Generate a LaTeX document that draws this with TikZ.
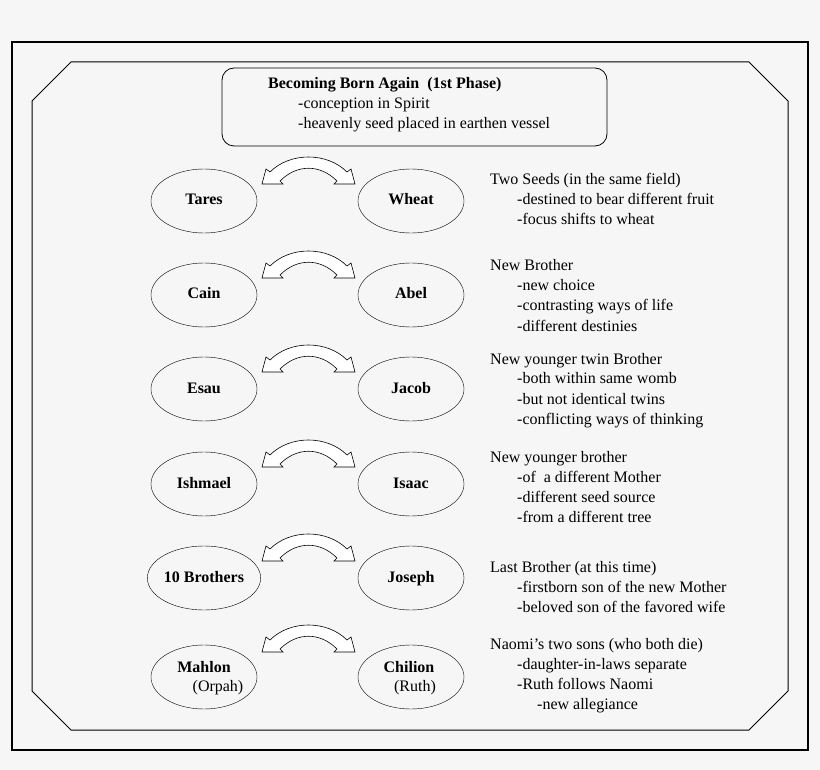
\documentclass[tikz,border=0pt]{standalone}
\usepackage{fontspec}
\setmainfont{Liberation Serif}
\usetikzlibrary{shapes.geometric}
\begin{document}
\begin{tikzpicture}[x=1pt,y=-1pt,
  oval/.style={draw,ellipse,minimum width=106pt,minimum height=64pt,font=\fontsize{16}{18}\selectfont\bfseries,align=center,inner sep=0pt,text height=11pt,text depth=3pt},
  txt/.style={anchor=west,font=\fontsize{16}{18}\selectfont,inner sep=0pt,text height=11pt,text depth=3pt},
  dbl/.style={draw,fill=white,line width=0.6pt}]
\fill[fill={rgb,255:red,246;green,246;blue,246}] (0,0) rectangle (820,770);
\useasboundingbox (0,0) rectangle (820,770);
\draw[line width=1.6pt] (12,42) rectangle (808,750);
\draw[line width=1pt] (71,62) -- (749,62) -- (788,101) -- (788,691) -- (749,730) -- (71,730) -- (32,691) -- (32,101) -- cycle;
\draw[rounded corners=12pt,line width=0.8pt] (222,68) rectangle (607,146);
\node[txt,font=\fontsize{16}{18}\selectfont\bfseries] (title) at (268,85) {Becoming Born Again\ \ (1st Phase)};
\node[txt] (t1) at (298,105) {-conception in Spirit};
\node[txt] (t2) at (298,125) {-heavenly seed placed in earthen vessel};
\def\dbarrow#1{\draw[dbl] (262,#1+184) -- (266,#1+169) -- (270,#1+172) .. controls (290,#1+152) and (327,#1+152) .. (347,#1+172) -- (351,#1+169) -- (355,#1+184) -- (334,#1+184) -- (337,#1+181) .. controls (320,#1+164) and (297,#1+164) .. (280,#1+181) -- (283,#1+184) -- cycle;}
\node[oval] (l1) at (204,201) {Tares};
\node[oval] (r1) at (411,201) {Wheat};
\dbarrow{0}
\node[oval] (l2) at (204,295) {Cain};
\node[oval] (r2) at (411,295) {Abel};
\dbarrow{94}
\node[oval] (l3) at (204,389) {Esau};
\node[oval] (r3) at (411,389) {Jacob};
\dbarrow{188}
\node[oval] (l4) at (204,484) {Ishmael};
\node[oval] (r4) at (411,484) {Isaac};
\dbarrow{283}
\node[oval] (l5) at (204,578) {10 Brothers};
\node[oval] (r5) at (411,578) {Joseph};
\dbarrow{377}
\node[oval] (l6) at (204,677) {};
\node[oval] (r6) at (411,677) {};
\node[font=\fontsize{16}{18}\selectfont\bfseries,text height=11pt,text depth=3pt] (l6a) at (204,668) {Mahlon};
\node[font=\fontsize{16}{18}\selectfont,text height=11pt,text depth=3pt] (l6b) at (218,687) {(Orpah)};
\node[font=\fontsize{16}{18}\selectfont\bfseries,text height=11pt,text depth=3pt] (r6a) at (409,668) {Chilion};
\node[font=\fontsize{16}{18}\selectfont,text height=11pt,text depth=3pt] (r6b) at (415,687) {(Ruth)};
\dbarrow{468}
\node[txt] (a1) at (490,181) {Two Seeds (in the same field)};
\node[txt] (a2) at (517,201) {-destined to bear different fruit};
\node[txt] (a3) at (517,221) {-focus shifts to wheat};
\node[txt] (b1) at (490,267) {New Brother};
\node[txt] (b2) at (517,287) {-new choice};
\node[txt] (b3) at (517,307) {-contrasting ways of life};
\node[txt] (b4) at (517,327) {-different destinies};
\node[txt] (c1) at (490,360) {New younger twin Brother};
\node[txt] (c2) at (517,380) {-both within same womb};
\node[txt] (c3) at (517,400) {-but not identical twins};
\node[txt] (c4) at (517,420) {-conflicting ways of thinking};
\node[txt] (d1) at (490,458) {New younger brother};
\node[txt] (d2) at (517,478) {-of\ \ a different Mother};
\node[txt] (d3) at (517,498) {-different seed source};
\node[txt] (d4) at (517,518) {-from a different tree};
\node[txt] (e1) at (490,568) {Last Brother (at this time)};
\node[txt] (e2) at (517,588) {-firstborn son of the new Mother};
\node[txt] (e3) at (517,608) {-beloved son of the favored wife};
\node[txt] (f1) at (490,645) {Naomi{\char"0027}s two sons (who both die)};
\node[txt] (f2) at (517,665) {-daughter-in-laws separate};
\node[txt] (f3) at (517,685) {-Ruth follows Naomi};
\node[txt] (f4) at (537,705) {-new allegiance};
\end{tikzpicture}
\end{document}
